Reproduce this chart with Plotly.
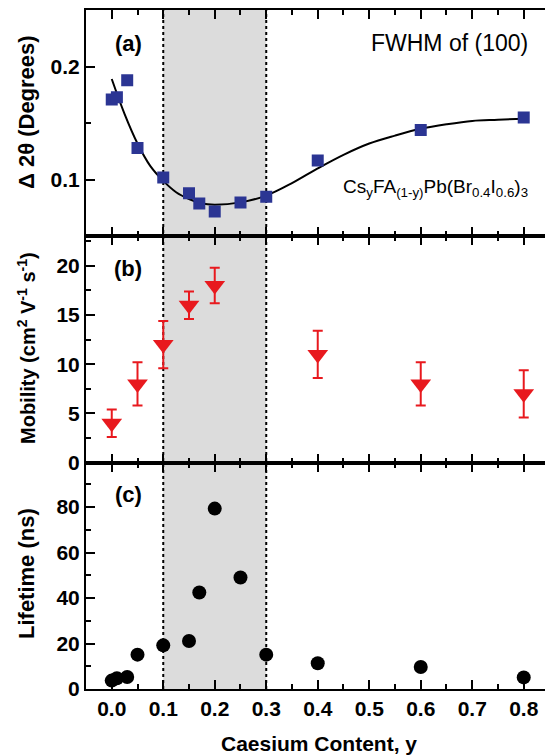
import plotly.graph_objects as go
from plotly.subplots import make_subplots

# ---- data ----
fwhm_x = [0.0, 0.01, 0.03, 0.05, 0.10, 0.15, 0.17, 0.20, 0.25, 0.30, 0.40, 0.60, 0.80]
fwhm_y = [0.171, 0.173, 0.188, 0.128, 0.102, 0.088, 0.079, 0.072, 0.080, 0.085, 0.117, 0.144, 0.155]

fit_x = [0.0, 0.025, 0.05, 0.075, 0.10, 0.125, 0.15, 0.175, 0.20, 0.25, 0.30, 0.35, 0.40,
         0.45, 0.50, 0.55, 0.60, 0.65, 0.70, 0.75, 0.80]
fit_y = [0.189, 0.158, 0.132, 0.112, 0.099, 0.089, 0.083, 0.079, 0.078, 0.080, 0.086, 0.097, 0.110,
         0.122, 0.132, 0.139, 0.145, 0.149, 0.152, 0.153, 0.154]

mob_x = [0.0, 0.05, 0.10, 0.15, 0.20, 0.40, 0.60, 0.80]
mob_y = [4.0, 8.0, 12.0, 16.0, 18.0, 11.0, 8.0, 7.0]
mob_err = [1.4, 2.2, 2.4, 1.4, 1.8, 2.4, 2.2, 2.4]

life_x = [0.0, 0.01, 0.03, 0.05, 0.10, 0.15, 0.17, 0.20, 0.25, 0.30, 0.40, 0.60, 0.80]
life_y = [3.7, 4.7, 5.3, 15.1, 19.2, 21.1, 42.4, 79.3, 49.0, 15.1, 11.3, 9.7, 5.1]

shade_x = [0.1, 0.3]

FONT = "Arial, Liberation Sans, sans-serif"
NAVY = "#2b3593"
RED = "#e8191e"

fig = make_subplots(rows=3, cols=1, shared_xaxes=True, vertical_spacing=0)

fig.add_trace(go.Scatter(x=fit_x, y=fit_y, mode="lines", line=dict(color="black", width=2, shape="spline"),
                         showlegend=False, hoverinfo="skip"), row=1, col=1)
fig.add_trace(go.Scatter(x=fwhm_x, y=fwhm_y, mode="markers",
                         marker=dict(symbol="square", size=12, color=NAVY), showlegend=False), row=1, col=1)
fig.add_trace(go.Scatter(x=mob_x, y=mob_y, mode="markers",
                         marker=dict(symbol="triangle-down", size=18, color=RED),
                         error_y=dict(type="data", array=mob_err, color=RED, thickness=2, width=5),
                         showlegend=False), row=2, col=1)
fig.add_trace(go.Scatter(x=life_x, y=life_y, mode="markers",
                         marker=dict(symbol="circle", size=14, color="black"), showlegend=False), row=3, col=1)

# shaded region & dotted boundaries
fig.add_shape(type="rect", xref="x", yref="paper", x0=shade_x[0], x1=shade_x[1], y0=0, y1=1,
              fillcolor="#dcdcdc", line=dict(width=0), layer="below")
for xv in shade_x:
    fig.add_shape(type="line", xref="x", yref="paper", x0=xv, x1=xv, y0=0, y1=1,
                  line=dict(color="black", width=2, dash="dot"), layer="below")

tickfont = dict(family=FONT, size=21, color="black", weight="bold")
common_x = dict(range=[-0.05, 0.8413], dtick=0.1, tick0=0, tickformat=".1f",
                showline=True, linecolor="black", linewidth=2, mirror="ticks",
                ticks="inside", ticklen=9, tickwidth=2, tickcolor="black",
                minor=dict(dtick=0.05, ticks="inside", ticklen=5, tickwidth=1.5, tickcolor="black"),
                showgrid=False, zeroline=False, tickfont=tickfont)
for r in (1, 2, 3):
    fig.update_xaxes(row=r, col=1, **common_x)

common_y = dict(showline=True, linecolor="black", linewidth=2, mirror=False,
                ticks="inside", ticklen=9, tickwidth=2, tickcolor="black",
                showgrid=False, zeroline=False, tickfont=tickfont)
fig.update_yaxes(row=1, col=1, range=[0.05, 0.25], dtick=0.1, tick0=0, tickformat=".1f",
                 minor=dict(dtick=0.05, ticks="inside", ticklen=5, tickwidth=1.5, tickcolor="black"), **common_y)
fig.update_yaxes(row=2, col=1, range=[0, 23], dtick=5, tick0=0,
                 minor=dict(dtick=2.5, ticks="inside", ticklen=5, tickwidth=1.5, tickcolor="black"), **common_y)
fig.update_yaxes(row=3, col=1, range=[0, 99.5], dtick=20, tick0=0,
                 minor=dict(dtick=10, ticks="inside", ticklen=5, tickwidth=1.5, tickcolor="black"), **common_y)

W, H, L, R, T, B = 545, 755, 86, 0, 10, 66
pw, ph = W - L - R, H - T - B

def px(xp):
    return (xp - L) / pw

def py(yp):
    return 1 - (yp - T) / ph

ann = []
def add_text(text, xp, yp, size=20, bold=False, xanchor="center", angle=0):
    t = f"<b>{text}</b>" if bold else text
    ann.append(dict(text=t, x=px(xp), y=py(yp), xref="paper", yref="paper", showarrow=False,
                    xanchor=xanchor, yanchor="middle", textangle=angle,
                    font=dict(family=FONT, size=size, color="black")))

add_text("(a)", 128, 43, size=22, bold=True)
add_text("(b)", 128, 268, size=22, bold=True)
add_text("(c)", 128, 494, size=22, bold=True)
add_text("FWHM of (100)", 530, 43, size=23, xanchor="right")
add_text("Cs<sub>y</sub>FA<sub>(1-y)</sub>Pb(Br<sub>0.4</sub>I<sub>0.6</sub>)<sub>3</sub>", 530, 188, size=19, xanchor="right")
add_text("\u0394 2\u03b8 (Degrees)", 26, 112, size=22, bold=True, angle=-90)
add_text("Mobility (cm<sup>2</sup> V<sup>-1</sup> s<sup>-1</sup>)", 26, 348, size=20, bold=True, angle=-90)
add_text("Lifetime (ns)", 26, 574, size=22, bold=True, angle=-90)
add_text("Caesium Content, y", 319, 743, size=21, bold=True)

fig.update_layout(width=W, height=H, margin=dict(l=L, r=R, t=T, b=B),
                  paper_bgcolor="white", plot_bgcolor="rgba(0,0,0,0)",
                  annotations=ann, showlegend=False)

fig.write_html("out.html", config={"displayModeBar": False},
               post_script="document.body.style.margin='0px';document.body.style.overflow='hidden';"
                           "document.documentElement.style.overflow='hidden';")
